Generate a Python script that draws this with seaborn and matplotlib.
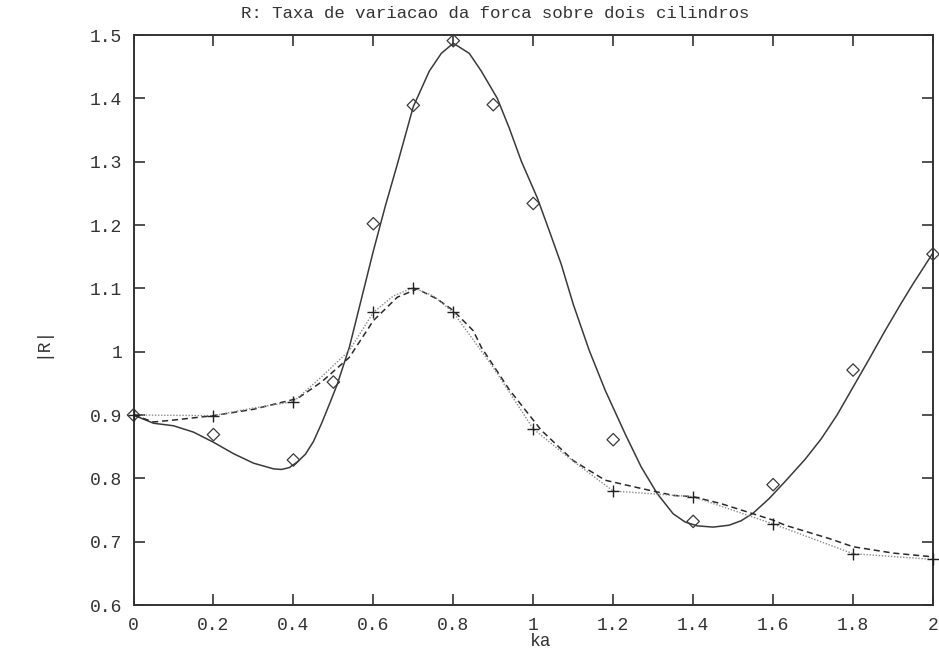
import matplotlib
matplotlib.use("Agg")
import matplotlib.pyplot as plt
import seaborn as sns

# ---- data ----
diam_x = [0.0, 0.2, 0.4, 0.5, 0.6, 0.7, 0.8, 0.9, 1.0, 1.2, 1.4, 1.6, 1.8, 2.0]
diam_y = [0.900, 0.869, 0.829, 0.952, 1.202, 1.389, 1.491, 1.390, 1.234, 0.861, 0.732, 0.790, 0.971, 1.154]

plus_x = [0.0, 0.2, 0.4, 0.6, 0.7, 0.8, 1.0, 1.2, 1.4, 1.6, 1.8, 2.0]
plus_y = [0.900, 0.899, 0.921, 1.062, 1.101, 1.062, 0.878, 0.780, 0.771, 0.728, 0.681, 0.672]

solid_x = [0.0, 0.05, 0.10, 0.15, 0.20, 0.25, 0.30, 0.35, 0.37, 0.39, 0.41, 0.43, 0.45, 0.47,
           0.49, 0.51, 0.54, 0.57, 0.60, 0.63, 0.66, 0.70, 0.74, 0.77, 0.80, 0.84, 0.87, 0.91,
           0.94, 0.97, 1.01, 1.04, 1.07, 1.10, 1.14, 1.18, 1.23, 1.27, 1.31, 1.35, 1.38, 1.41,
           1.45, 1.49, 1.52, 1.55, 1.59, 1.63, 1.68, 1.72, 1.76, 1.80, 1.84, 1.88, 1.92, 1.95,
           2.00]
solid_y = [0.900, 0.887, 0.883, 0.873, 0.857, 0.839, 0.824, 0.815, 0.814, 0.817, 0.826, 0.838,
           0.858, 0.886, 0.917, 0.949, 1.007, 1.083, 1.159, 1.230, 1.296, 1.387, 1.443, 1.471,
           1.487, 1.471, 1.443, 1.400, 1.353, 1.301, 1.243, 1.191, 1.138, 1.075, 1.002, 0.939,
           0.870, 0.818, 0.776, 0.744, 0.731, 0.725, 0.723, 0.726, 0.733, 0.745, 0.768, 0.795,
           0.830, 0.862, 0.900, 0.944, 0.988, 1.033, 1.076, 1.107, 1.156]

dash_x = [0.0, 0.05, 0.10, 0.20, 0.30, 0.41, 0.47, 0.54, 0.60, 0.66, 0.71, 0.76, 0.80, 0.85,
          0.87, 0.94, 1.02, 1.10, 1.18, 1.27, 1.35, 1.40, 1.47, 1.52, 1.60, 1.63, 1.74, 1.80,
          1.90, 2.00]
dash_y = [0.900, 0.889, 0.892, 0.899, 0.909, 0.926, 0.952, 0.991, 1.049, 1.086, 1.099, 1.083,
          1.065, 1.033, 1.007, 0.940, 0.876, 0.828, 0.797, 0.784, 0.773, 0.771, 0.760, 0.750,
          0.734, 0.726, 0.705, 0.692, 0.682, 0.676]

dot_x = [0.0, 0.2, 0.3, 0.4, 0.47, 0.54, 0.6, 0.65, 0.7, 0.75, 0.8, 0.9, 1.0, 1.1, 1.2, 1.4,
         1.6, 1.8, 2.0]
dot_y = [0.900, 0.899, 0.911, 0.921, 0.960, 1.002, 1.062, 1.088, 1.101, 1.088, 1.062, 0.975,
         0.878, 0.827, 0.780, 0.771, 0.728, 0.681, 0.672]

x_ticks = [0, 0.2, 0.4, 0.6, 0.8, 1.0, 1.2, 1.4, 1.6, 1.8, 2.0]
x_labels = ["0", "0.2", "0.4", "0.6", "0.8", "1", "1.2", "1.4", "1.6", "1.8", "2"]
y_ticks = [0.6, 0.7, 0.8, 0.9, 1.0, 1.1, 1.2, 1.3, 1.4, 1.5]
y_labels = ["0.6", "0.7", "0.8", "0.9", "1", "1.1", "1.2", "1.3", "1.4", "1.5"]

title = "R: Taxa de variacao da forca sobre dois cilindros"
xlabel = "ka"
ylabel = "|R|"

# ---- plotting ----
sns.set_theme(style="white")
plt.rcParams["font.family"] = ["Liberation Mono", "DejaVu Sans Mono"]

fig = plt.figure(figsize=(9.39, 6.54), dpi=100)
ax = fig.add_axes([133.5 / 939, 1 - 605 / 654, (933 - 133.5) / 939, (605 - 35) / 654])

ink = "#3a3a3a"
sns.lineplot(x=solid_x, y=solid_y, ax=ax, sort=False, color=ink, lw=1.1, estimator=None)
sns.lineplot(x=dash_x, y=dash_y, ax=ax, sort=False, color="#2a2a2a", lw=1.1,
             linestyle=(0, (4, 2.5)), estimator=None)
sns.lineplot(x=dot_x, y=dot_y, ax=ax, sort=False, color="#8a8a8a", lw=1.0,
             linestyle=(0, (1, 1.2)), estimator=None)

sns.scatterplot(x=diam_x, y=diam_y, ax=ax, marker="D", s=40, facecolor="none",
                edgecolor=ink, linewidth=0.9, zorder=5, clip_on=False)
sns.scatterplot(x=plus_x, y=plus_y, ax=ax, marker="+", s=80, color="#222222",
                linewidth=1.0, zorder=5, clip_on=False)

ax.set_xlim(0, 2)
ax.set_ylim(0.6, 1.5)
ax.set_xticks(x_ticks)
ax.set_xticklabels(x_labels)
ax.set_yticks(y_ticks)
ax.set_yticklabels(y_labels)
ax.tick_params(direction="in", length=8, width=1.2, color="#333333",
               top=True, right=True, bottom=True, left=True,
               labelsize=13, labelcolor="#333333")
ax.tick_params(axis="x", pad=9)
ax.tick_params(axis="y", pad=8)
for sp in ax.spines.values():
    sp.set_visible(True)
    sp.set_color("#333333")
    sp.set_linewidth(1.4)

ax.set_xlabel("")
ax.set_ylabel("")
fig.text(541 / 939, 1 - 641 / 654, xlabel, ha="center", va="center", fontsize=13, color="#333333")
fig.text(42 / 939, 1 - 342 / 654, ylabel, ha="center", va="center", rotation=90,
         fontsize=13, color="#333333")
fig.text(495 / 939, 1 - 13 / 654, title, ha="center", va="center", fontsize=12.5, color="#333333")

fig.savefig("out.png", dpi=100, facecolor="white")
